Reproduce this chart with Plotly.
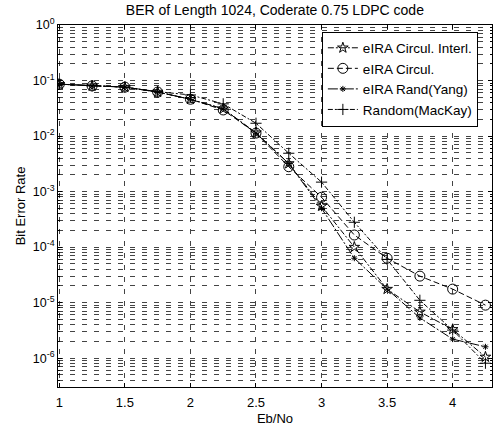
import plotly.graph_objects as go

ebno = [1.0, 1.25, 1.5, 1.75, 2.0, 2.25, 2.5, 2.75, 3.0, 3.25, 3.5, 3.75, 4.0, 4.25]

ber_circ_interl = [0.086, 0.080, 0.076, 0.062, 0.046, 0.031, 0.0115, 0.0032, 5.5e-4, 1.0e-4, 1.75e-5, 6.8e-6, 3.3e-6, 1.05e-6]
ber_circ = [0.086, 0.080, 0.076, 0.062, 0.046, 0.0295, 0.0113, 0.0028, 7.9e-4, 1.65e-4, 6.3e-5, 3.0e-5, 1.75e-5, 9.0e-6]
ber_rand_yang = [0.086, 0.080, 0.076, 0.062, 0.046, 0.031, 0.0112, 0.0032, 5.0e-4, 6.3e-5, 1.75e-5, 5.3e-6, 2.2e-6, 1.6e-6]
ber_mackay = [0.086, 0.080, 0.076, 0.063, 0.055, 0.038, 0.017, 0.0049, 1.48e-3, 2.8e-4, 6.0e-5, 1.1e-5, 3.2e-6, 8.1e-7]

names = ["eIRA Circul. Interl.", "eIRA Circul.", "eIRA Rand(Yang)", "Random(MacKay)"]
series = [ber_circ_interl, ber_circ, ber_rand_yang, ber_mackay]
symbols = ["star-open", "circle-open", "asterisk-open", "cross-thin-open"]
sizes = [8, 10, 5, 8]
dashes = ["6px,2px,2px,2px", "6px,3px", "10px,2px,2px,2px", "5px,2px,2px,2px"]

x_ticks = [1, 1.5, 2, 2.5, 3, 3.5, 4]
x_ticklabels = ["1", "1.5", "2", "2.5", "3", "3.5", "4"]
y_exps = [0, -1, -2, -3, -4, -5, -6]
y_ticks = [10.0 ** e for e in y_exps]
y_ticklabels = ["10<sup>%d</sup>" % e for e in y_exps]
y_minor = [m * 10.0 ** e for e in range(-7, 0) for m in range(2, 10)]

fig = go.Figure()
for nm, ys, sym, sz, ds in zip(names, series, symbols, sizes, dashes):
    fig.add_trace(go.Scatter(
        x=ebno, y=ys, name=nm, mode="lines+markers",
        line=dict(color="black", width=1, dash=ds),
        marker=dict(symbol=sym, size=sz, color="black", line=dict(color="black", width=1)),
    ))

font = "Liberation Sans, Arial, Helvetica, sans-serif"
grid_col = "#444444"
grid_dash = "5px,7px"

fig.update_layout(
    width=498, height=426,
    margin=dict(l=58, r=6, t=25, b=39),
    paper_bgcolor="white", plot_bgcolor="white",
    font=dict(family=font, size=12, color="black"),
    title=dict(text="BER of Length 1024, Coderate 0.75 LDPC code", x=0.552, xanchor="center",
               y=0.977, yanchor="middle", font=dict(size=14)),
    showlegend=True,
    legend=dict(x=0.608, y=0.982, xanchor="left", yanchor="top",
                bgcolor="white", bordercolor="black", borderwidth=1,
                font=dict(size=13.5), tracegroupgap=0),
)
fig.update_xaxes(
    range=[0.99, 4.30], tickvals=x_ticks, ticktext=x_ticklabels, automargin=False,
    showline=True, linecolor="black", linewidth=1, mirror="ticks",
    ticks="inside", ticklen=4, tickcolor="black", ticklabelstandoff=3,
    showgrid=True, gridcolor=grid_col, gridwidth=1, griddash=grid_dash,
    zeroline=False, tickfont=dict(size=13),
    title=dict(text="Eb/No", font=dict(size=13), standoff=6),
)
fig.update_yaxes(
    type="log", range=[-6.52, 0], automargin=False,
    tickvals=y_ticks, ticktext=y_ticklabels, tickfont=dict(size=12.5),
    showline=True, linecolor="black", linewidth=1, mirror="ticks",
    ticks="inside", ticklen=4, tickcolor="black",
    showgrid=True, gridcolor=grid_col, gridwidth=1, griddash=grid_dash,
    minor=dict(tickmode="array", tickvals=y_minor, ticks="inside", ticklen=2, tickcolor="black",
               showgrid=True, gridcolor=grid_col, gridwidth=1, griddash=grid_dash),
    zeroline=False,
    title=dict(text="Bit Error Rate", font=dict(size=13), standoff=4),
)

fig.write_html("out.html", config={"displayModeBar": False},
               post_script="document.body.style.margin='0';")
